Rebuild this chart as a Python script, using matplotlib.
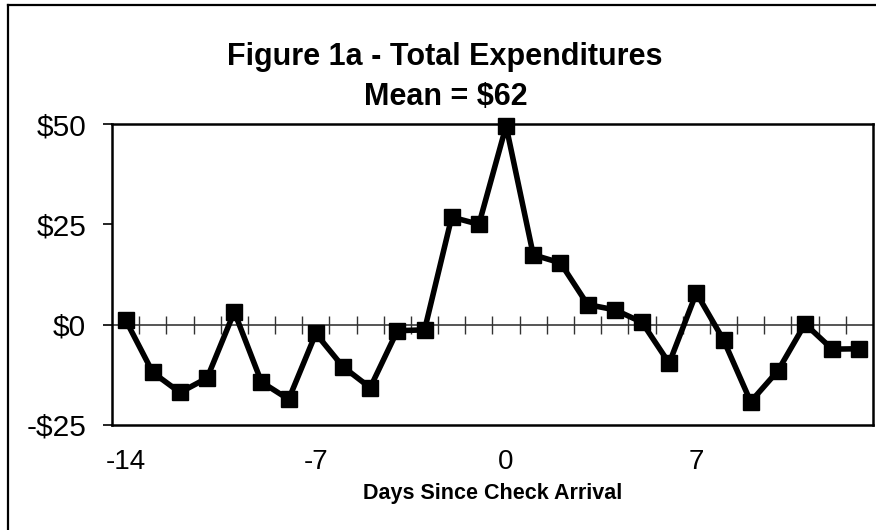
import numpy as np
import matplotlib
matplotlib.use("Agg")
import matplotlib.pyplot as plt
from matplotlib.lines import Line2D

plt.rcParams['font.family'] = ['Liberation Sans', 'DejaVu Sans']

# days relative to check arrival, and change in spending ($)
days = list(range(-14, 14))
spending = [1.2, -11.9, -16.9, -13.3, 3.2, -14.3, -18.6, -2.2, -10.5, -15.7,
            -1.5, -1.3, 26.8, 25.0, 49.5, 17.4, 15.4, 5.0, 3.7, 0.6,
            -9.6, 7.9, -3.8, -19.2, -11.5, 0.2, -6.1, -6.0]
xtick_days = [-14, -7, 0, 7]
ytick_vals = [-25, 0, 25, 50]
ytick_labels = ['-$25', '$0', '$25', '$50']
title_lines = ['Figure 1a - Total Expenditures', 'Mean = $62']
xlabel = 'Days Since Check Arrival'

W, H = 876, 530
fig = plt.figure(figsize=(W / 100, H / 100), dpi=100)
ax = fig.add_axes([112 / W, 1 - 425 / H, (873 - 112) / W, (425 - 124) / H])

# zero line with category separators
ax.axhline(0, color='#555555', lw=1.4, zorder=1)
seps = np.arange(days[0] + 0.5, days[-1], 1.0)
ax.plot(seps, np.zeros_like(seps), ls='none', marker='|', ms=13,
        mew=1.0, color='#333333', zorder=1)

ax.plot(days, spending, color='black', lw=4, marker='s', ms=11.5,
        mfc='black', mec='black', zorder=3, clip_on=False)

ax.set_xlim(days[0] - 0.5, days[-1] + 0.5)
ax.set_ylim(-25, 50)
ax.set_xticks(xtick_days)
ax.set_xticklabels([str(d) for d in xtick_days])
ax.set_yticks(ytick_vals)
ax.set_yticklabels(ytick_labels)
ax.tick_params(axis='x', length=0, pad=17, labelsize=20)
ax.tick_params(axis='y', length=6.5, width=1.2, direction='out', pad=12,
               labelsize=21.5)
for s in ax.spines.values():
    s.set_linewidth(1.8)
ax.set_xlabel(xlabel, fontsize=15.5, fontweight='bold', labelpad=6)

fig.text(445 / W, 1 - 65 / H, title_lines[0], ha='center', va='baseline',
         fontsize=22, fontweight='bold')
fig.text(446 / W, 1 - 105 / H, title_lines[1], ha='center', va='baseline',
         fontsize=22, fontweight='bold')

# outer chart border (left and top edges visible)
fig.add_artist(Line2D([8 / W, 8 / W], [0, 1 - 5 / H], transform=fig.transFigure,
                      color='black', lw=1.6))
fig.add_artist(Line2D([8 / W, 1], [1 - 5 / H, 1 - 5 / H], transform=fig.transFigure,
                      color='black', lw=1.6))

fig.savefig('out.png', dpi=100, facecolor='white')
plt.close(fig)
